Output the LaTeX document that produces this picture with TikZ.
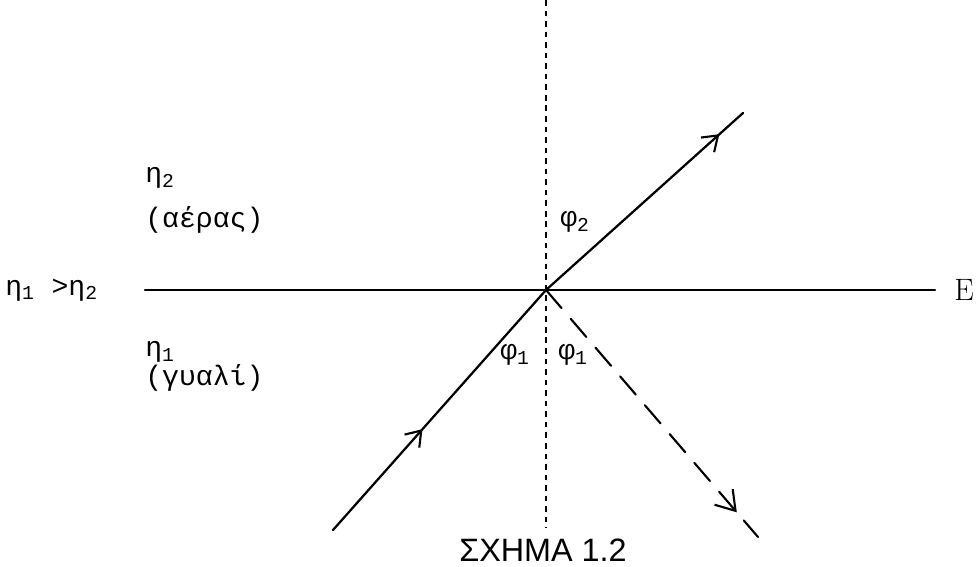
\documentclass[tikz,border=0pt]{standalone}
\usepackage{fontspec}
\newfontfamily\typefont{Liberation Mono}
\newfontfamily\capfont{Liberation Sans}
\usetikzlibrary{arrows.meta, decorations.markings}
\tikzset{
  >={Straight Barb[length=10pt, width=14pt]},
  every picture/.style={line cap=round, line join=round},
  ray/.style={line width=1.6pt},
  reflray/.style={line width=1.5pt, dash pattern=on 17pt off 10pt},
  normal/.style={line width=1.4pt, dash pattern=on 4pt off 3.5pt, line cap=butt},
  % arrow tip part way along a ray
  midarrow/.style={postaction={decorate}, decoration={markings,
    mark=at position #1 with {\arrow[line width=1.5pt]{>}}}},
  bigarrow/.style={postaction={decorate}, decoration={markings,
    mark=at position #1 with {\arrow[line width=1.5pt]{Straight Barb[length=13pt, width=17pt]}}}},
  lbl/.style={font=\typefont\fontsize{20}{22}\selectfont, inner sep=0pt},
}

\begin{document}
\begin{tikzpicture}[x=0.025cm, y=-0.025cm]
  \useasboundingbox (0,0) rectangle (978,566);
  % ---- points of the figure
  \coordinate (O) at (546,290);
  \coordinate (top) at (546,0);
  \coordinate (bot) at (546,528);
  \coordinate (left) at (145,290);
  \coordinate (right) at (935,290);
  \coordinate (inc) at (333,530);
  \coordinate (refr) at (743,113);
  \coordinate (refl) at (758,537);
  % ---- interface and normal
  \draw[ray] (left) -- (right);
  \draw[normal] (top) -- (bot);
  % ---- rays
  \draw[ray, midarrow=0.42] (inc) -- (O);
  \draw[ray, midarrow=0.88] (O) -- (refr);
  \draw[reflray, bigarrow=0.9] (O) -- (refl);
  % ---- labels
  \node[lbl, anchor=west] (n2) at (145,178) {η\textsubscript{2}};
  \node[lbl, anchor=west] (air) at (145,220) {(αέρας)};
  \node[lbl, anchor=west] (n1) at (145,352) {η\textsubscript{1}};
  \node[lbl, anchor=west] (glass) at (145,378) {(γυαλί)};
  \node[lbl, anchor=west] (cmp) at (5,290) {η\textsubscript{1} >η\textsubscript{2}};
  \node[lbl] (phi2) at (575,222) {φ\textsubscript{2}};
  \node[lbl] (phi1l) at (515,355) {φ\textsubscript{1}};
  \node[lbl] (phi1r) at (573,355) {φ\textsubscript{1}};
  \node[font=\fontsize{22}{24}\selectfont, inner sep=0pt] (E) at (964,290) {E};
  \node[font=\capfont\fontsize{23}{25}\selectfont, inner sep=0pt] (cap) at (543,550) {ΣΧΗΜΑ 1.2};
\end{tikzpicture}
\end{document}
